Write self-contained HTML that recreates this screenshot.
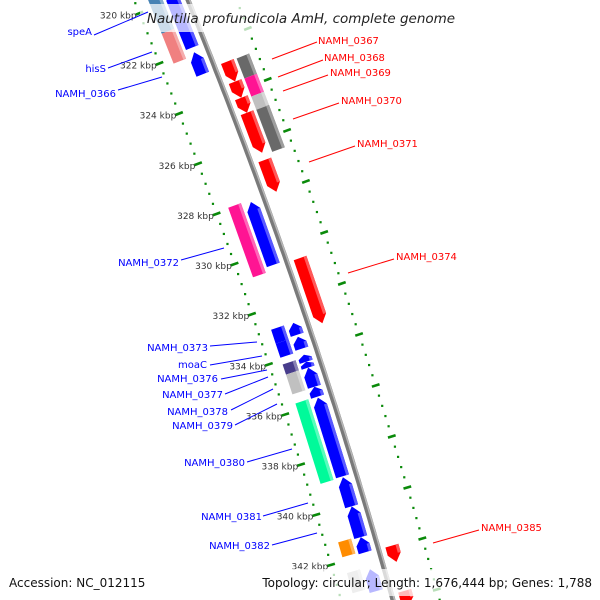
<!DOCTYPE html>
<html><head><meta charset="utf-8"><style>
html,body{margin:0;padding:0;background:#fff;width:600px;height:600px;overflow:hidden;}
svg{display:block;overflow:hidden;font-family:"DejaVu Sans","Liberation Sans",sans-serif;}
</style></head><body>
<svg id="chart" width="600" height="600" viewBox="0 0 600 600" xmlns="http://www.w3.org/2000/svg">
<rect width="600" height="600" fill="#fff"/>
<g id="ticks"></g>
<g id="backbone"></g>
<g id="genes"></g>
<g id="ticklabels"></g>
<rect x="140" y="4" width="322" height="28" fill="#fff" fill-opacity="0.72"/>
<text x="301" y="23" text-anchor="middle" font-size="13.5" font-style="italic" fill="#222">Nautilia profundicola AmH, complete genome</text>
<g id="labels"></g>
<rect x="4" y="570" width="118" height="24" fill="#fff" fill-opacity="0.72"/>
<rect x="255" y="569" width="342" height="27" fill="#fff" fill-opacity="0.72"/>
<text x="9" y="587" font-size="12" fill="#111">Accession: NC_012115</text>
<text x="592" y="587" text-anchor="end" font-size="12" fill="#111">Topology: circular; Length: 1,676,444 bp; Genes: 1,788</text>
</svg>
<script>
const geneStart=[319.64,322.09,328.02,332.81,333.36,334.07,334.35,334.58,335.34,335.77,338.93,340.08,341.30,342.57,
 319.63,321.01,327.93,332.79,333.34,334.17,334.57,335.72,341.25,342.47,
 322.85,323.64,324.28,324.87,326.73,330.60,341.94,343.72,
 322.87,323.66,324.37,324.89];
const geneEnd=[321.90,322.96,330.51,333.28,333.83,334.35,334.58,335.34,335.73,338.89,340.08,341.30,341.90,343.44,
 321.01,322.20,330.70,333.34,333.90,334.57,335.36,338.92,341.84,343.27,
 323.64,324.28,324.87,326.45,327.99,333.17,342.58,344.3,
 323.66,324.37,324.89,326.55];
const geneLane=['LI','LI','LI','LI','LI','LI','LI','LI','LI','LI','LI','LI','LI','LI',
 'LO','LO','LO','LO','LO','LO','LO','LO','LO','LO',
 'RI','RI','RI','RI','RI','RI','RI','RI',
 'RO','RO','RO','RO'];
const geneColor=['#0000ff','#0000ff','#0000ff','#0000ff','#0000ff','#0000ff','#0000ff','#0000ff','#0000ff','#0000ff','#0000ff','#0000ff','#0000ff','#0000ff',
 '#4682b4','#f08080','#ff1493','#0000ff','#0000ff','#483d8b','#c0c0c0','#00fa9a','#ff8c00','#c0c0c0',
 '#ff0000','#ff0000','#ff0000','#ff0000','#ff0000','#ff0000','#ff0000','#ff0000',
 '#696969','#ff1493','#c0c0c0','#696969'];
const tickKbp=[320,322,324,326,328,330,332,334,336,338,340,342];
const tickText=['320 kbp','322 kbp','324 kbp','326 kbp','328 kbp','330 kbp','332 kbp','334 kbp','336 kbp','338 kbp','340 kbp','342 kbp'];
const leftLabels=['speA','hisS','NAMH_0366','NAMH_0372','NAMH_0373','moaC','NAMH_0376','NAMH_0377','NAMH_0378','NAMH_0379','NAMH_0380','NAMH_0381','NAMH_0382'];
const rightLabels=['NAMH_0367','NAMH_0368','NAMH_0369','NAMH_0370','NAMH_0371','NAMH_0374','NAMH_0385'];

const NS='http://www.w3.org/2000/svg';
function el(tag,attrs,parent){const e=document.createElementNS(NS,tag);for(const k in attrs)e.setAttribute(k,attrs[k]);parent.appendChild(e);return e;}
function tOf(k){return 45+(k-322)*25.3;}
function bx(t){return 188+0.405*t-1.056e-4*t*t;}
function P(k,d){const t=tOf(k);const s=0.405-2.112e-4*t;const L=Math.sqrt(1+s*s);return [bx(t)-d/L, t+d*s/L];}
function pts(a){return a.map(p=>p[0].toFixed(1)+','+p[1].toFixed(1)).join(' ');}
function lighten(c,f){const n=parseInt(c.slice(1),16);let r=n>>16,g=(n>>8)&255,b=n&255;r=Math.round(r+(255-r)*f);g=Math.round(g+(255-g)*f);b=Math.round(b+(255-b)*f);return 'rgb('+r+','+g+','+b+')';}
const lanes={LI:[7,20.5],LO:[23.5,37],RI:[-20.5,-7],RO:[-37,-23.5]};

const bb=document.getElementById('backbone');
let line=[],line2=[];
for(let k=319;k<=344.5;k+=0.25){line.push(P(k,0));line2.push(P(k,-1.5));}
const b1=el('polyline',{points:pts(line),fill:'none',stroke:'#7a7a7a','stroke-width':5},bb);


const b2=el('polyline',{points:pts(line2),fill:'none',stroke:'#b8b8b8','stroke-width':1.5},bb);



const tg=document.getElementById('ticks');
[50,-45].forEach(function(d,ri){
 for(let i=0;i<=68;i++){
  const k=318+i*0.4;
  const major=Math.abs((k/2)-Math.round(k/2))<0.01;
  let e;
  if(major){const p1=P(k,d-4),p2=P(k,d+4);
   e=el('line',{x1:p1[0],y1:p1[1],x2:p2[0],y2:p2[1],stroke:'#0a8a0a','stroke-width':2.6},tg);
   
  } else {const p=P(k,d);
   e=el('rect',{x:p[0]-1.1,y:p[1]-1.1,width:2.2,height:2.2,fill:'#0a8a0a'},tg);
   
  }
  
 }
});

const gg=document.getElementById('genes');
for(let i=0;i<geneStart.length;i++){
 const a=geneStart[i],b=geneEnd[i],ln=geneLane[i],c=geneColor[i];
 const d1=lanes[ln][0],d2=lanes[ln][1],dm=(d1+d2)/2;
 let poly,strip;
 const h=Math.min(8/25.3,(b-a)*0.5);
 if(ln==='LI'){
  poly=[P(a,dm),P(a+h,d2),P(b,d2),P(b,d1),P(a+h,d1)];
  strip=[P(a+h,d1+3),P(b,d1+3),P(b,d1),P(a+h,d1)];
 } else if(ln==='RI'){
  poly=[P(a,d1),P(a,d2),P(b-h,d2),P(b,dm),P(b-h,d1)];
  strip=[P(a,d1),P(a,d1+3),P(b-h,d1+3),P(b-h,d1)];
 } else {
  poly=[P(a,d1),P(a,d2),P(b,d2),P(b,d1)];
  strip=[P(a,d1),P(a,d1+3),P(b,d1+3),P(b,d1)];
 }
 const g=el('g',{},gg);
 
 
 el('polygon',{points:pts(poly),fill:c},g);
 el('polygon',{points:pts(strip),fill:lighten(c,0.35)},g);
}

const tl=document.getElementById('ticklabels');
for(let i=0;i<tickKbp.length;i++){
 const p=P(tickKbp[i],53);
 const t=el('text',{x:p[0].toFixed(1),y:(p[1]+4).toFixed(1),'text-anchor':'end','font-size':9,fill:'#333'},tl);
 t.textContent=tickText[i];
 
 
}

const lg=document.getElementById('labels');
const leftPos=[[92,35,94,35,148,12],[106,72,108,68,152,52],[116,97,118,90,162,77],[179,266,181,260,224,248],[208,351,210,346,257,342],[207,368,210,365,262,356],[218,382,221,379,267,370],[223,398,225,394,268,377],[228,415,231,410,273,389],[233,429,235,425,277,404],[245,466,247,462,292,449],[262,520,263,516,308,503],[270,549,272,545,317,533]];
for(let i=0;i<leftLabels.length;i++){
 const q=leftPos[i];
 const l=el('line',{x1:q[2],y1:q[3],x2:q[4],y2:q[5],stroke:'#0000ff','stroke-width':1},lg);
 
 
 const t=el('text',{x:q[0],y:q[1],'text-anchor':'end','font-size':10,fill:'#0000ff'},lg);
 t.textContent=leftLabels[i];
 
 
}
const rightPos=[[318,44,272,59,317,42],[324,61,278,77,323,60],[330,76,283,91,328,75],[341,104,293,119,339,103],[357,147,309,162,355,146],[396,260,348,273,394,259],[481,531,433,543,479,530]];
for(let i=0;i<rightLabels.length;i++){
 const q=rightPos[i];
 const l=el('line',{x1:q[2],y1:q[3],x2:q[4],y2:q[5],stroke:'#ff0000','stroke-width':1},lg);
 
 
 const t=el('text',{x:q[0],y:q[1],'font-size':10,fill:'#ff0000'},lg);
 t.textContent=rightLabels[i];
 
 
}
</script>
</body></html>
